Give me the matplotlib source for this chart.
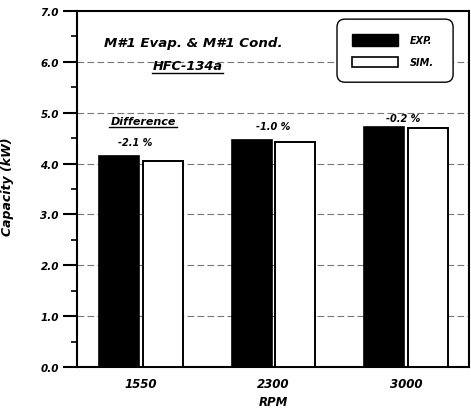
import matplotlib.pyplot as plt
from matplotlib.patches import FancyBboxPatch, Rectangle

rpm = ['1550', '2300', '3000']
exp_capacity = [4.15, 4.47, 4.71]
sim_capacity = [4.06, 4.42, 4.70]
difference = ['-2.1 %', '-1.0 %', '-0.2 %']

FONT = 'DejaVu Sans'


def style(size):
    return dict(fontfamily=FONT, fontweight='bold', fontstyle='italic', fontsize=size)


def draw(ax):
    x = list(range(len(rpm)))
    w = 0.30
    off = 0.164
    ax.bar([i - off for i in x], exp_capacity, w, color='black', edgecolor='black', lw=1.2, zorder=3)
    ax.bar([i + off for i in x], sim_capacity, w, color='white', edgecolor='black', lw=1.4, zorder=3)

    ax.set_xlim(-0.483, 2.475)
    ax.set_ylim(0, 7)
    ax.set_xticks(x)
    ax.set_xticklabels(rpm)
    ax.set_yticks(range(8))
    ax.set_yticklabels(['%.1f' % v for v in range(8)])
    ax.set_yticks([0.5 + i for i in range(7)], minor=True)
    ax.tick_params(axis='x', length=0, pad=7)
    ax.tick_params(axis='y', which='major', direction='out', length=10, width=1.5, pad=3)
    ax.tick_params(axis='y', which='minor', direction='out', length=4, width=1.2)
    for lab in ax.get_xticklabels():
        lab.update(style(8.5))
    for lab in ax.get_yticklabels():
        lab.update(style(7.5))
    for s in ax.spines.values():
        s.set_linewidth(1.5)

    for v in range(1, 7):
        ax.axhline(v, color='#777777', lw=0.8, ls=(0, (6, 3)), zorder=1)

    ax.set_ylabel('Capacity (kW)', **style(9))
    ax.yaxis.set_label_coords(-0.16, 0.51)
    ax.set_xlabel('RPM', **style(8.5), labelpad=4)

    c = dict(ha='center', va='center', zorder=5)
    ax.text(0.393, 6.39, 'M#1 Evap. & M#1 Cond.', **style(9.6), **c)
    ax.text(0.35, 5.92, 'HFC-134a', **style(9.3), **c)
    ax.plot([0.08, 0.62], [5.79, 5.79], color='black', lw=1.0, zorder=5)
    ax.text(0.015, 4.84, 'Difference', **style(8), **c)
    ax.plot([-0.24, 0.27], [4.72, 4.72], color='black', lw=1.0, zorder=5)
    ax.text(-0.045, 4.42, difference[0], **style(7), **c)
    ax.text(1.0, 4.74, difference[1], **style(7), **c)
    ax.text(1.98, 4.90, difference[2], **style(7), **c)

    # legend box
    box = FancyBboxPatch((1.479, 5.60), 0.876, 1.24, boxstyle='round,pad=0,rounding_size=0.06',
                         facecolor='white', edgecolor='black', lw=1.0, zorder=6,
                         mutation_aspect=2.6)
    ax.add_patch(box)
    ax.add_patch(Rectangle((1.592, 6.31), 0.347, 0.24, facecolor='black', edgecolor='black', lw=1, zorder=7))
    ax.add_patch(Rectangle((1.592, 5.90), 0.347, 0.20, facecolor='white', edgecolor='black', lw=1.2, zorder=7))
    ax.text(2.03, 6.43, 'EXP.', **style(7), ha='left', va='center', zorder=7)
    ax.text(2.03, 6.00, 'SIM.', **style(7), ha='left', va='center', zorder=7)


def main():
    fig = plt.figure(figsize=(4.71, 4.10), dpi=100)
    ax = fig.add_axes([77 / 471, 1 - 368 / 410, (469 - 77) / 471, (368 - 12) / 410])
    draw(ax)
    fig.savefig('out.png', dpi=100)


if __name__ == '__main__':
    main()
